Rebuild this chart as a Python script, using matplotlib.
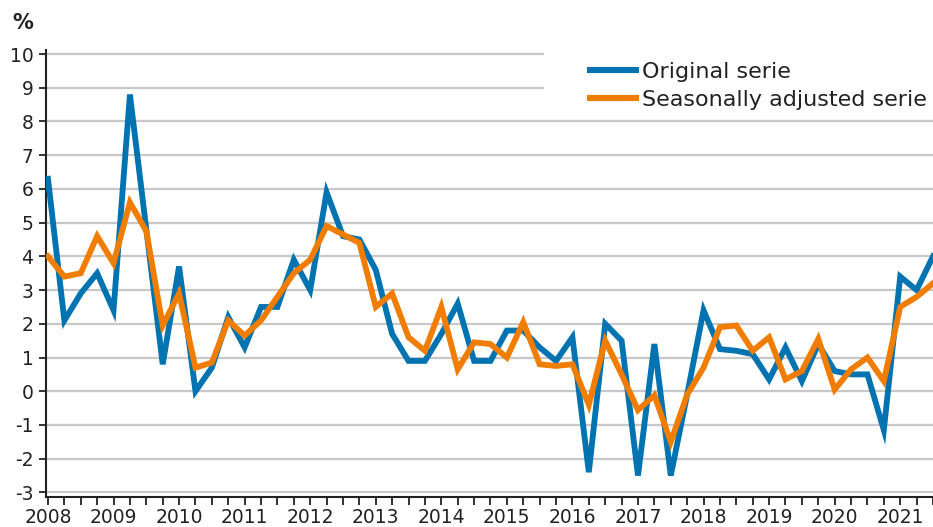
import numpy as np
import matplotlib
matplotlib.use("Agg")
import matplotlib.pyplot as plt

# データ (quarterly, 2008Q1 - 2021Q3)
years = list(range(2008, 2022))
original = [6.3, 2.1, 2.9, 3.5, 2.4, 8.8, 4.8, 0.8, 3.7, 0.0,
            0.7, 2.2, 1.3, 2.5, 2.5, 3.9, 3.0, 5.9, 4.6, 4.5,
            3.6, 1.7, 0.9, 0.9, 1.7, 2.6, 0.9, 0.9, 1.8, 1.8,
            1.3, 0.9, 1.6, -2.4, 2.0, 1.5, -2.5, 1.4, -2.5, -0.1,
            2.4, 1.25, 1.2, 1.1, 0.35, 1.3, 0.3, 1.4, 0.6, 0.5,
            0.5, -1.15, 3.4, 3.0, 4.0]
seasonal = [4.0, 3.4, 3.5, 4.6, 3.8, 5.6, 4.75, 1.95, 2.9, 0.7,
            0.85, 2.1, 1.65, 2.1, 2.8, 3.5, 3.9, 4.9, 4.65, 4.4,
            2.5, 2.9, 1.6, 1.2, 2.5, 0.65, 1.45, 1.4, 1.0, 2.05,
            0.8, 0.75, 0.8, -0.4, 1.5, 0.5, -0.56, -0.12, -1.5, -0.1,
            0.7, 1.9, 1.95, 1.2, 1.6, 0.35, 0.6, 1.55, 0.05, 0.65,
            1.0, 0.3, 2.5, 2.8, 3.2]
yticks = list(range(-3, 11))

blue = "#0073b0"
orange = "#f07d00"
grid_color = "#c8c8c8"

x = np.arange(len(original))

fig = plt.figure(figsize=(9.33, 5.27), dpi=100)
ax = fig.add_axes([46 / 933, 30 / 527, 1 - 46 / 933, 447 / 527])

# グリッド (legend area cuts the top two lines)
for y in yticks:
    xmax = 0.56 if y >= 9 else 1.0
    ax.axhline(y, xmin=0, xmax=xmax, color=grid_color, lw=1.6, zorder=1)

ax.plot(x, original, color=blue, lw=4.2, solid_joinstyle="miter",
        label="Original serie", zorder=3)
ax.plot(x, seasonal, color=orange, lw=4.2, solid_joinstyle="miter",
        label="Seasonally adjusted serie", zorder=4)

ax.set_xlim(-0.12, 54.0)
ax.set_ylim(-3.136, 10.12)

ax.set_yticks(yticks)
ax.set_yticklabels([str(v) for v in yticks])
ax.set_xticks(x)
ax.set_xticklabels([str(years[i // 4]) if i % 4 == 0 else "" for i in x])

ax.tick_params(axis="y", length=5, width=1.3, pad=4, labelsize=13.5,
               colors="#222222")
ax.tick_params(axis="x", length=6, width=1.3, pad=2, labelsize=13.5,
               colors="#222222")

for side in ["top", "right"]:
    ax.spines[side].set_visible(False)
for side in ["left", "bottom"]:
    ax.spines[side].set_linewidth(1.5)
    ax.spines[side].set_color("#222222")

fig.text(12 / 933, 1 - 13 / 527, "%", fontsize=15, fontweight="bold",
         color="#222222", va="top", ha="left")

leg = ax.legend(loc="upper left", bbox_to_anchor=(590 / 933, 1 - 62 / 527),
                bbox_transform=fig.transFigure, frameon=False, fontsize=16,
                handlelength=2.07, handletextpad=0.27, labelspacing=0.36,
                borderaxespad=0, borderpad=0)
for line in leg.get_lines():
    line.set_linewidth(4.4)
for t in leg.get_texts():
    t.set_color("#222222")

fig.savefig("out.png", dpi=100)
